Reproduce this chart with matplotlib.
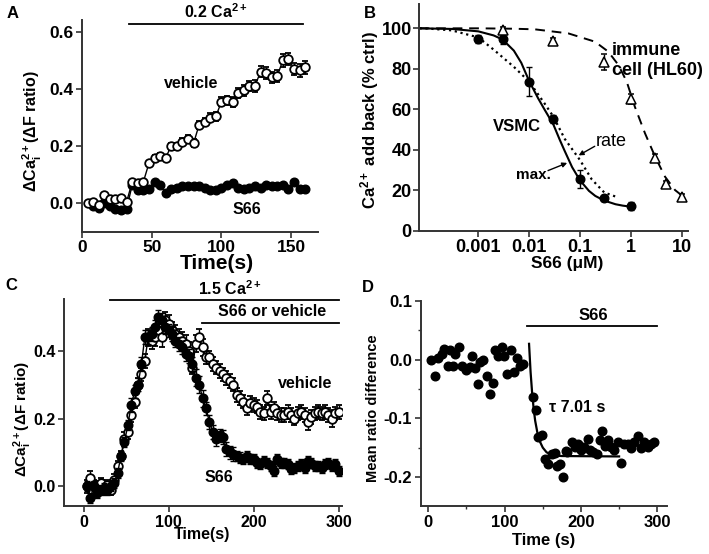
import matplotlib
matplotlib.use("Agg")
import matplotlib.pyplot as plt

plt.rcParams['font.family'] = ['Liberation Sans', 'DejaVu Sans']
plt.rcParams['font.weight'] = 'bold'
plt.rcParams['mathtext.fontset'] = 'custom'
plt.rcParams['mathtext.rm'] = 'Liberation Sans:bold'
plt.rcParams['mathtext.bf'] = 'Liberation Sans:bold'
plt.rcParams['mathtext.it'] = 'Liberation Sans:bold'
plt.rcParams['mathtext.default'] = 'bf'

# ---------------- Panel A data ----------------
tA_veh = [4, 8, 12, 16, 20, 24, 28, 32, 36, 40, 44, 48, 52, 56, 60, 64, 68, 72, 76, 80,
          84, 88, 92, 96, 100, 104, 108, 112, 116, 120, 124, 128, 132, 136, 140, 144, 148, 152, 156, 160]
yA_veh = [0.0, 0.005, -0.005, 0.03, 0.015, 0.015, 0.02, 0.005, 0.075, 0.07, 0.075, 0.14, 0.16, 0.165,
          0.16, 0.2, 0.2, 0.215, 0.225, 0.21, 0.275, 0.285, 0.3, 0.305, 0.355, 0.36, 0.355, 0.385,
          0.395, 0.41, 0.41, 0.46, 0.455, 0.44, 0.445, 0.5, 0.505, 0.47, 0.465, 0.475]
eA_veh = [0.005, 0.005, 0.005, 0.006, 0.006, 0.006, 0.007, 0.007, 0.008, 0.008, 0.008, 0.009, 0.01, 0.01,
          0.01, 0.012, 0.012, 0.012, 0.014, 0.014, 0.014, 0.015, 0.015, 0.016, 0.016, 0.016, 0.018, 0.018,
          0.018, 0.018, 0.02, 0.02, 0.02, 0.02, 0.02, 0.022, 0.022, 0.022, 0.022, 0.022]
tA_s66 = [8, 12, 16, 20, 24, 28, 32, 36, 40, 44, 48, 52, 56, 60, 64, 68, 72, 76, 80, 84,
          88, 92, 96, 100, 104, 108, 112, 116, 120, 124, 128, 132, 136, 140, 144, 148, 152, 156, 160]
yA_s66 = [-0.01, -0.015, 0.0, -0.01, -0.02, -0.025, -0.02, 0.065, 0.045, 0.045, 0.05, 0.075, 0.065,
          0.035, 0.05, 0.055, 0.06, 0.06, 0.06, 0.06, 0.055, 0.045, 0.045, 0.055, 0.065, 0.07, 0.055,
          0.05, 0.055, 0.06, 0.055, 0.065, 0.06, 0.06, 0.065, 0.05, 0.075, 0.05, 0.05]

# ---------------- Panel B data ----------------
xB_vsmc = [0.001, 0.003, 0.01, 0.03, 0.1, 0.3, 1]
yB_vsmc = [94.6, 94.5, 73.7, 55.1, 25.5, 16.5, 12.5]
eB_vsmc = [2.0, 2.0, 7.0, 2.0, 4.4, 1.5, 2.0]
xB_hl = [0.003, 0.03, 0.3, 1, 3, 5, 10]
yB_hl = [99.0, 93.5, 83.5, 65.0, 36.0, 23.0, 17.0]
eB_hl = [1.5, 1.5, 4.0, 2.5, 2.0, 1.5, 1.5]
# fitted curves
xB_max = [7e-5, 3e-4, 0.001, 0.002, 0.003, 0.005, 0.007, 0.01, 0.015, 0.02, 0.03,
          0.04, 0.05, 0.07, 0.1, 0.15, 0.2, 0.3, 0.5, 0.7, 1.0]
yB_max = [100, 99.7, 98.5, 96.5, 94.5, 89, 83, 74, 65.5, 60, 52.5,
          45, 39.5, 31.5, 25, 19.8, 17.3, 15, 13.2, 12.5, 12]
xB_rate = [7e-5, 1e-4, 3e-4, 0.001, 0.002, 0.005, 0.01, 0.02, 0.03, 0.05, 0.1, 0.17, 0.3, 0.5]
yB_rate = [100, 99.9, 99, 95.5, 89.5, 81, 73.7, 63, 56.4, 45.5, 35, 25.5, 19, 17]
xB_hlfit = [7e-5, 1e-3, 0.005, 0.013, 0.059, 0.197, 0.36, 0.57, 0.83, 1.2, 1.9, 3.0, 4.7, 7.4, 10.7]
yB_hlfit = [100, 100, 99.8, 99.5, 97.5, 93.4, 88.5, 81.9, 73.7, 61.3, 48.2, 36.7, 26.8, 20.2, 17]

# ---------------- Panel C data ----------------
tC = [4, 8, 12, 16, 20, 24, 28, 32, 36, 40, 44, 48, 52, 56, 60, 64, 68, 72, 76, 80,
      84, 88, 92, 96, 100, 104, 108, 112, 116, 120, 124, 128, 132, 136, 140, 144, 148, 152, 156, 160,
      164, 168, 172, 176, 180, 184, 188, 192, 196, 200, 204, 208, 212, 216, 220, 224, 228, 232, 236, 240,
      244, 248, 252, 256, 260, 264, 268, 272, 276, 280, 284, 288, 292, 296, 300]
yC_veh = [0.0, 0.025, 0.005, 0.0, 0.01, -0.01, 0.005, -0.01, 0.02, 0.06, 0.09, 0.14, 0.16, 0.21, 0.25,
          0.30, 0.33, 0.37, 0.44, 0.43, 0.44, 0.46, 0.44, 0.49, 0.48, 0.46, 0.45, 0.44, 0.43, 0.42,
          0.40, 0.35, 0.42, 0.44, 0.41, 0.38, 0.38, 0.36, 0.35, 0.34, 0.33, 0.32, 0.31, 0.30, 0.27,
          0.26, 0.25, 0.23, 0.245, 0.24, 0.235, 0.22, 0.215, 0.26, 0.22, 0.23, 0.215, 0.21, 0.21, 0.22,
          0.21, 0.20, 0.215, 0.22, 0.21, 0.19, 0.205, 0.215, 0.22, 0.215, 0.22, 0.21, 0.20, 0.215, 0.22]
yC_s66 = [0.0, -0.035, 0.0, -0.02, -0.01, -0.005, -0.01, 0.0, 0.01, 0.04, 0.09, 0.13, 0.18, 0.24, 0.28,
          0.30, 0.36, 0.44, 0.44, 0.45, 0.47, 0.50, 0.49, 0.47, 0.46, 0.45, 0.43, 0.42, 0.41, 0.39,
          0.385, 0.36, 0.32, 0.30, 0.26, 0.23, 0.19, 0.16, 0.14, 0.15, 0.145, 0.11, 0.10, 0.095, 0.09,
          0.085, 0.08, 0.09, 0.08, 0.08, 0.07, 0.065, 0.075, 0.07, 0.06, 0.045, 0.08, 0.07, 0.07, 0.065,
          0.05, 0.055, 0.06, 0.065, 0.055, 0.075, 0.07, 0.06, 0.06, 0.055, 0.065, 0.07, 0.06, 0.065, 0.045]
eC_veh = [0.02, 0.02, 0.015, 0.015, 0.015, 0.015, 0.015, 0.015, 0.015, 0.015, 0.015, 0.02, 0.02, 0.02, 0.02,
          0.02, 0.02, 0.02, 0.025, 0.025, 0.025, 0.025, 0.03, 0.025, 0.025, 0.025, 0.025, 0.025, 0.025, 0.025,
          0.025, 0.02, 0.025, 0.025, 0.025, 0.02, 0.02, 0.02, 0.02, 0.02, 0.02, 0.02, 0.02, 0.02, 0.02,
          0.02, 0.02, 0.02, 0.02, 0.02, 0.02, 0.02, 0.02, 0.02, 0.02, 0.02, 0.02, 0.02, 0.02, 0.02,
          0.02, 0.02, 0.02, 0.02, 0.02, 0.025, 0.02, 0.02, 0.02, 0.02, 0.02, 0.02, 0.025, 0.02, 0.02]
eC_s66 = [0.015, 0.015, 0.015, 0.015, 0.015, 0.015, 0.015, 0.015, 0.015, 0.015, 0.015, 0.015, 0.015, 0.02, 0.02,
          0.02, 0.02, 0.02, 0.02, 0.02, 0.02, 0.02, 0.02, 0.02, 0.02, 0.02, 0.02, 0.02, 0.02, 0.02,
          0.02, 0.02, 0.025, 0.025, 0.025, 0.02, 0.02, 0.02, 0.02, 0.02, 0.02, 0.02, 0.02, 0.02, 0.015,
          0.015, 0.015, 0.015, 0.015, 0.015, 0.015, 0.015, 0.015, 0.015, 0.015, 0.015, 0.015, 0.015, 0.015, 0.015,
          0.015, 0.015, 0.015, 0.015, 0.015, 0.015, 0.015, 0.015, 0.015, 0.015, 0.015, 0.015, 0.015, 0.015, 0.015]

# ---------------- Panel D data ----------------
tD = [3.5, 8.8, 13.1, 18.4, 21, 26.2, 28.4, 32.8, 35, 40.2, 44.6, 49.4, 54.6, 56.8, 61.2, 64.7, 67.8,
      72.1, 76.5, 80.9, 84.4, 87.4, 91.7, 96.2, 99.2, 102.7, 108.4, 112.7, 116.6, 120.2, 124.6,
      136.8, 141.1, 144.2, 149.4, 152.9, 156.4, 161.7, 166, 168.3, 172.6, 176.9, 180, 182.3, 187.9,
      192.3, 195.7, 200.1, 204.5, 208.9, 212, 216.4, 220.7, 225, 227.3, 231.7, 236, 239.5, 243.9,
      248.3, 252.6, 256.9, 261.3, 265.7, 270, 274.4, 278.8, 283.1, 287.5, 291.8, 296.2]
yD = [0.0, -0.028, 0.003, 0.009, 0.019, -0.011, 0.016, -0.011, 0.009, 0.022, -0.011, -0.018, -0.012,
      0.007, -0.014, -0.041, -0.004, 0.0, -0.028, -0.058, -0.040, 0.017, 0.006, 0.022, 0.006, -0.024,
      0.016, -0.021, 0.003, -0.010, -0.008,
      -0.064, -0.085, -0.132, -0.129, -0.169, -0.178, -0.160, -0.159, -0.182, -0.178, -0.200, -0.156,
      -0.157, -0.141, -0.149, -0.143, -0.154, -0.149, -0.136, -0.154, -0.157, -0.160, -0.137, -0.122,
      -0.147, -0.137, -0.149, -0.154, -0.140, -0.176, -0.143, -0.143, -0.151, -0.140, -0.131, -0.151,
      -0.141, -0.149, -0.143, -0.140]
tD_fit = [132, 134, 136, 138, 140, 143, 146, 150, 155, 160, 166, 175, 250]
yD_fit = [0.027, -0.021, -0.056, -0.083, -0.104, -0.125, -0.139, -0.150, -0.158, -0.161, -0.1635, -0.1643, -0.165]

W, H = 709, 554
fig = plt.figure(figsize=(W / 100, H / 100), dpi=100)


def add_ax(l, r, t, b):
    return fig.add_axes([l / W, 1 - b / H, (r - l) / W, (b - t) / H])


SPC = '#333333'
TXT_FS = 11.5
MS = 6.2


def style(ax, tfs=12.5, pad=2):
    for s in ['top', 'right']:
        ax.spines[s].set_visible(False)
    for s in ['left', 'bottom']:
        ax.spines[s].set_linewidth(1.4)
        ax.spines[s].set_color(SPC)
    ax.tick_params(which='major', direction='out', length=4, width=1.2, color=SPC,
                   labelsize=tfs, pad=pad)
    ax.tick_params(which='minor', direction='out', length=2.5, width=1.0, color=SPC)
    for lab in ax.get_xticklabels() + ax.get_yticklabels():
        lab.set_fontweight('bold')


def labels(ax, xl, yl, xpos, ypos, xfs, yfs):
    ax.set_xlabel(xl, fontsize=xfs, fontweight='bold')
    ax.xaxis.set_label_coords(*xpos)
    ax.xaxis.label.set_va('center')
    ax.set_ylabel(yl, fontsize=yfs, fontweight='bold')
    ax.yaxis.set_label_coords(*ypos)
    ax.yaxis.label.set_va('center')


ylab_ca = r'ΔCa$_{i}^{2+}$(ΔF ratio)'

# ================= Panel A =================
axA = add_ax(82, 317.7, 20.3, 231.7)
axA.set_xlim(0, 169)
axA.set_ylim(-0.0993, 0.64)
axA.errorbar(tA_s66, yA_s66, fmt='-o', color='black', ms=MS, mfc='black', mec='black',
             lw=1.0, zorder=2)
axA.errorbar(tA_veh, yA_veh, yerr=eA_veh, fmt='-o', color='black', ms=MS, mfc='white', mec='black',
             mew=1.3, lw=1.0, elinewidth=1.0, capsize=2.5, capthick=1.0, zorder=3)
axA.set_xticks([0, 50, 100, 150])
axA.set_yticks([0.0, 0.2, 0.4, 0.6])
axA.set_yticklabels(['0.0', '0.2', '0.4', '0.6'])
style(axA, 12.5)
labels(axA, 'Time(s)', ylab_ca, (0.571, -0.15), (-0.21, 0.474), 15, 11.5)
axA.plot([34, 158.5], [0.626, 0.626], color='black', lw=1.3, clip_on=False)
axA.text(96, 0.637, r'0.2 Ca$^{2+}$', ha='center', va='bottom', fontsize=TXT_FS, fontweight='bold')
axA.text(78, 0.42, 'vehicle', ha='center', va='center', fontsize=TXT_FS, fontweight='bold')
axA.text(118, -0.022, 'S66', ha='center', va='center', fontsize=TXT_FS, fontweight='bold')
fig.text(13 / W, 1 - 13 / H, 'A', fontsize=12, fontweight='bold', ha='center', va='center')

# ================= Panel B =================
axB = add_ax(419.3, 688.3, 4, 231)
axB.set_xscale('log')
axB.set_xlim(6.91e-5, 13.5)
axB.set_ylim(0, 112)
axB.plot(xB_max, yB_max, '-', color='black', lw=1.5)
axB.plot(xB_rate, yB_rate, ':', color='black', lw=1.6)
axB.plot(xB_hlfit, yB_hlfit, '--', color='black', lw=1.4, dashes=(5, 3.5))
axB.errorbar(xB_vsmc, yB_vsmc, yerr=eB_vsmc, fmt='o', color='black', ms=MS, mfc='black',
             elinewidth=1.0, capsize=2.5, capthick=1.0, zorder=4)
axB.errorbar(xB_hl, yB_hl, yerr=eB_hl, fmt='^', color='black', ms=6.5, mfc='white', mec='black',
             mew=1.1, elinewidth=1.0, capsize=2.5, capthick=1.0, zorder=4)
axB.set_xticks([0.001, 0.01, 0.1, 1, 10])
axB.set_xticklabels(['0.001', '0.01', '0.1', '1', '10'])
axB.set_yticks([0, 20, 40, 60, 80, 100])
style(axB, 13, pad=1.5)
labels(axB, 'S66 (μM)', r'Ca$^{2+}$ add back (% ctrl)', (0.55, -0.142), (-0.185, 0.489), 12.5, 12)
axB.text(0.42, 89.3, 'immune', ha='left', va='center', fontsize=13, fontweight='bold')
axB.text(0.42, 79.4, 'cell (HL60)', ha='left', va='center', fontsize=13, fontweight='bold')
axB.text(0.0058, 51.5, 'VSMC', ha='center', va='center', fontsize=12, fontweight='bold')
axB.text(0.2, 44, 'rate', ha='left', va='center', fontsize=13, fontweight='normal')
axB.text(0.012, 27.6, 'max.', ha='center', va='center', fontsize=11, fontweight='bold')
axB.annotate('', xy=(0.094, 37.3), xytext=(0.195, 41.8),
             arrowprops=dict(arrowstyle='-|>', color='black', lw=1.0, mutation_scale=7,
                             shrinkA=0, shrinkB=0))
axB.annotate('', xy=(0.056, 33.6), xytext=(0.0235, 29.8),
             arrowprops=dict(arrowstyle='-|>', color='black', lw=1.0, mutation_scale=7,
                             shrinkA=0, shrinkB=0))
fig.text(370 / W, 1 - 13 / H, 'B', fontsize=12, fontweight='bold', ha='center', va='center')

# ================= Panel C =================
axC = add_ax(64.3, 341.7, 299.3, 506.3)
axC.set_xlim(-22.7, 303.6)
axC.set_ylim(-0.0588, 0.5515)
axC.errorbar(tC, yC_veh, yerr=eC_veh, fmt='-o', color='black', ms=MS, mfc='white', mec='black',
             mew=1.3, lw=1.0, elinewidth=1.0, capsize=2.5, capthick=1.0, zorder=2)
axC.errorbar(tC, yC_s66, yerr=eC_s66, fmt='-o', color='black', ms=MS, mfc='black', mec='black',
             lw=1.0, elinewidth=1.0, capsize=2.5, capthick=1.0, zorder=3)
axC.set_xticks([0, 100, 200, 300])
axC.set_yticks([0.0, 0.2, 0.4])
axC.set_yticklabels(['0.0', '0.2', '0.4'])
style(axC, 11.5)
labels(axC, 'Time(s)', ylab_ca, (0.495, -0.135), (-0.15, 0.424), 11.5, 11)
axC.plot([31.4, 300], [0.549, 0.549], color='black', lw=1.3, clip_on=False)
axC.plot([139, 300], [0.483, 0.483], color='black', lw=1.3, clip_on=False)
axC.text(172.5, 0.556, r'1.5 Ca$^{2+}$', ha='center', va='bottom', fontsize=TXT_FS, fontweight='bold')
axC.text(221.6, 0.493, 'S66 or vehicle', ha='center', va='bottom', fontsize=TXT_FS, fontweight='bold')
axC.text(261, 0.304, 'vehicle', ha='center', va='center', fontsize=TXT_FS, fontweight='bold')
axC.text(159, 0.027, 'S66', ha='center', va='center', fontsize=TXT_FS, fontweight='bold')
fig.text(11 / W, 1 - 286 / H, 'C', fontsize=12, fontweight='bold', ha='center', va='center')

# ================= Panel D =================
axD = add_ax(420.7, 666.7, 301, 506.3)
axD.set_xlim(-10, 312.4)
axD.set_ylim(-0.25, 0.1)
axD.plot(tD, yD, 'o', color='black', ms=MS, zorder=3)
axD.plot(tD_fit, yD_fit, '-', color='black', lw=1.6, zorder=2)
axD.set_xticks([0, 100, 200, 300])
axD.set_xticks([50, 150, 250], minor=True)
axD.set_yticks([0.1, 0.0, -0.1, -0.2])
axD.set_yticklabels(['0.1', '0.0', '-0.1', '-0.2'])
axD.set_yticks([0.05, -0.05, -0.15], minor=True)
style(axD, 12)
labels(axD, 'Time (s)', 'Mean ratio difference', (0.498, -0.166), (-0.193, 0.479), 12, 10.5)
axD.plot([129, 299.4], [0.057, 0.057], color='black', lw=1.3, clip_on=False)
axD.text(216, 0.062, 'S66', ha='center', va='bottom', fontsize=12, fontweight='bold')
axD.text(158, -0.082, 'τ 7.01 s', ha='left', va='center', fontsize=11.5, fontweight='bold')
fig.text(368 / W, 1 - 287 / H, 'D', fontsize=12, fontweight='bold', ha='center', va='center')

fig.savefig('out.png', dpi=100)
